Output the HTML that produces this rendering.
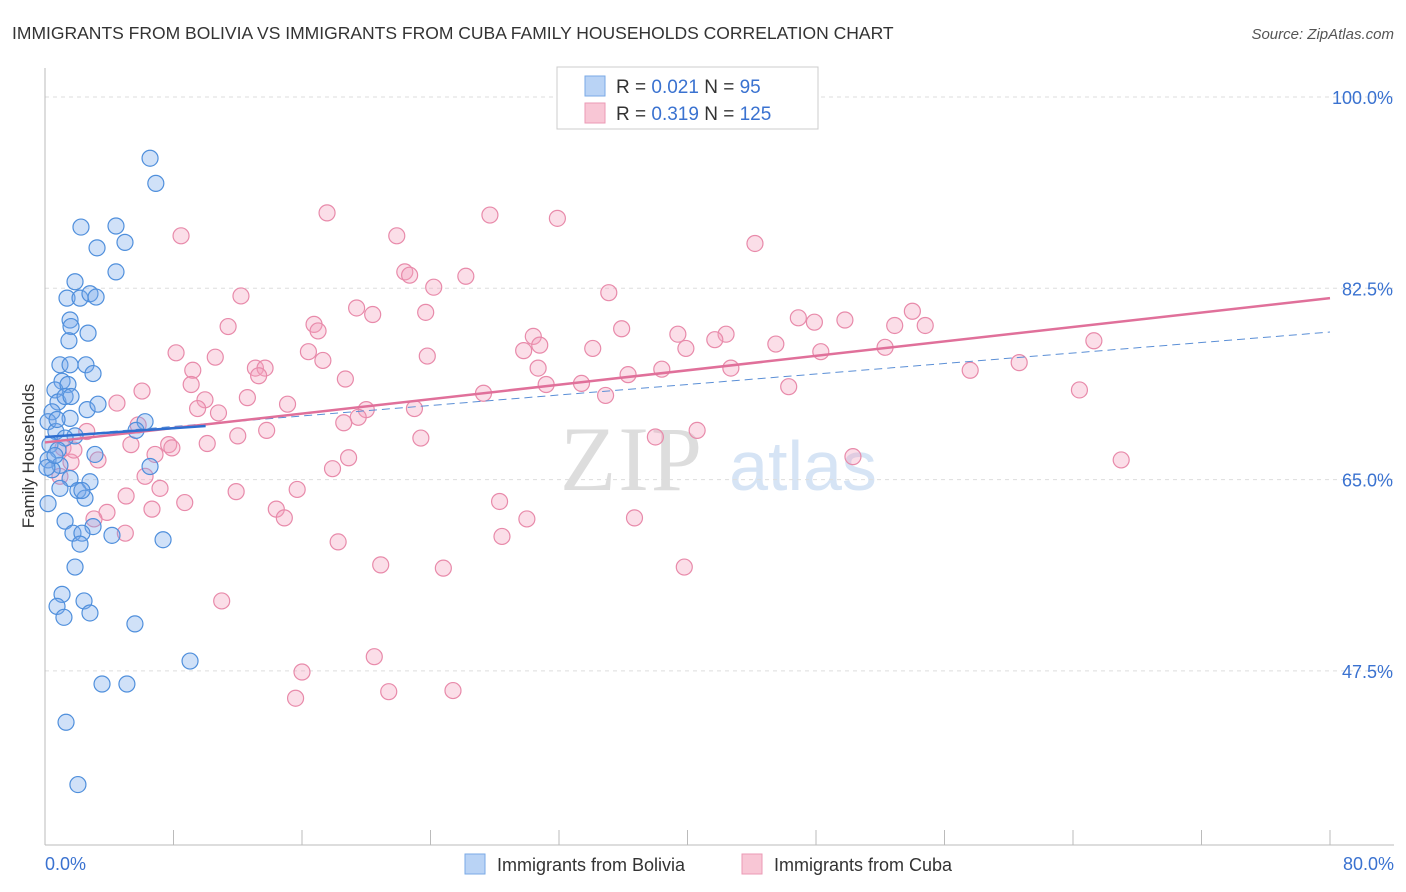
<!DOCTYPE html>
<html><head><meta charset="utf-8"><style>
body{margin:0;background:#fff;font-family:"Liberation Sans",sans-serif;}
</style></head><body>
<svg id="chart" width="1406" height="892" xmlns="http://www.w3.org/2000/svg" style="display:block">
<text x="12" y="39" font-size="17.5" fill="#333">IMMIGRANTS FROM BOLIVIA VS IMMIGRANTS FROM CUBA FAMILY HOUSEHOLDS CORRELATION CHART</text>
<text x="1394" y="39" font-size="15" fill="#555" text-anchor="end" font-style="italic">Source: ZipAtlas.com</text>
<g>
<text x="632" y="490" font-size="92" fill="#ddd" font-family="Liberation Serif,serif" text-anchor="middle" letter-spacing="2">ZIP</text>
<text x="803" y="490" font-size="70" fill="#d6e4f5" text-anchor="middle">atlas</text>
</g>
<g id="grid"></g><g id="axes"></g><g id="pts"></g><g id="lines"></g>
<text transform="translate(34,456) rotate(-90)" font-size="17" fill="#333" text-anchor="middle">Family Households</text>
<g>
<rect x="557" y="67" width="261" height="62" fill="#fff" stroke="#ccc"/>
<rect x="585" y="76" width="20" height="20" fill="#b9d3f5" stroke="#7aaae6"/>
<rect x="585" y="103" width="20" height="20" fill="#f8c6d5" stroke="#eb9ab5"/>
<text x="616" y="93" font-size="19" fill="#333">R = <tspan fill="#3a72d0">0.021</tspan>   N =  <tspan fill="#3a72d0"> 95</tspan></text>
<text x="616" y="120" font-size="19" fill="#333">R = <tspan fill="#3a72d0">0.319</tspan>   N = <tspan fill="#3a72d0">125</tspan></text>
</g>
<g>
<rect x="465" y="854" width="20" height="20" fill="#b9d3f5" stroke="#7aaae6"/>
<text x="497" y="871" font-size="18" fill="#333">Immigrants from Bolivia</text>
<rect x="742" y="854" width="20" height="20" fill="#f8c6d5" stroke="#eb9ab5"/>
<text x="774" y="871" font-size="18" fill="#333">Immigrants from Cuba</text>
</g>
</svg>
<script>
const yTicks=[100,82.5,65,47.5];
const yTickLabels=["100.0%","82.5%","65.0%","47.5%"];
const xTickCount=10;
const blueX=[6.54,6.9,2.24,4.42,3.24,4.98,4.42,1.87,1.37,2.18,2.8,3.18,1.56,1.62,2.68,1.49,0.93,1.56,2.55,2.99,1.06,0.62,1.43,0.81,1.25,1.62,2.62,3.3,0.44,1.56,6.23,5.67,0.19,0.68,1.87,1.25,0.31,0.81,3.11,0.19,0.93,6.54,0.44,1.56,2.8,0.93,2.05,2.49,0.19,1.25,2.99,1.74,2.3,4.17,2.18,7.35,1.87,1.06,0.75,2.43,1.18,2.8,5.6,9.03,3.55,5.1,1.31,2.05,0.12,0.62,2.3,0.75];
const blueY=[94.4,92.1,88.1,88.2,86.2,86.7,84.0,83.1,81.6,81.6,82.0,81.7,79.6,79.0,78.4,77.7,75.5,75.5,75.5,74.7,74.0,73.2,73.7,72.1,72.6,72.6,71.4,71.9,71.2,70.6,70.3,69.5,70.3,69.4,69.0,68.8,68.2,67.7,67.3,66.8,66.3,66.2,65.9,65.1,64.8,64.2,64.0,63.3,62.8,61.2,60.7,60.1,60.1,59.9,59.1,59.5,57.0,54.5,53.4,53.9,52.4,52.8,51.8,48.4,46.3,46.3,42.8,37.1,66.1,67.2,64.0,70.5];
const pinkX=[17.56,27.7,31.9,8.47,21.9,44.2,22.4,22.7,26.2,24.2,35.1,12.2,19.4,20.4,23.7,54.0,46.9,47.9,49.8,52.9,54.8,11.4,16.75,17.0,35.9,39.4,42.4,41.7,30.4,30.8,34.1,65.3,39.9,45.5,48.3,52.3,8.16,10.6,16.4,17.3,23.8,29.8,13.1,13.7,9.2,13.3,30.7,38.4,42.7,60.65,57.6,18.7,36.3,31.2,33.4,9.1,6.04,27.3,34.9,46.3,64.4,12.6,15.1,9.96,4.48,9.5,10.8,20.0,23.0,19.5,18.6,5.8,12.0,13.8,5.35,7.7,10.1,23.4,38.0,40.6,2.6,7.9,6.85,1.12,18.9,50.3,67.0,17.9,1.62,6.23,0.93,11.9,15.7,7.16,5.05,8.7,6.66,3.86,14.4,14.9,28.3,30.0,36.7,3.05,5.0,28.45,18.25,20.9,24.8,39.8,11.0,20.5,16.0,21.4,25.4,15.6,1.8,3.3];
const pinkY=[89.4,89.2,88.9,87.3,87.3,86.6,84.0,83.7,83.6,82.6,82.1,81.8,80.7,80.1,80.3,80.4,79.8,79.4,79.6,79.1,79.1,79.0,79.2,78.6,78.8,78.3,78.3,77.8,78.1,77.3,77.0,77.7,77.0,77.4,76.7,77.1,76.6,76.2,76.7,75.9,76.3,76.8,75.2,75.2,75.0,74.5,75.2,75.1,75.2,75.7,75.0,74.2,74.6,73.7,73.8,73.7,73.1,72.9,72.7,73.5,73.2,72.5,71.9,72.3,72.0,71.5,71.1,71.4,71.5,70.7,70.2,70.0,69.0,69.5,68.2,68.2,68.3,68.8,68.9,69.5,69.4,67.9,67.3,67.9,67.0,67.1,66.8,66.0,66.6,65.3,65.3,63.9,64.1,64.2,63.5,62.9,62.3,62.0,62.3,61.5,63.0,61.4,61.5,61.4,60.1,59.8,59.3,57.2,56.9,57.0,53.9,48.8,47.4,45.6,45.7,45.0,67.7,66.8];
const pinkTrend=[68.4,81.6];
const blueTrend=[68.9,69.9,10];
const blueDash=[68.9,78.5];
const NS="http://www.w3.org/2000/svg";
const sx=v=>45+v/80*1285;
const sy=v=>97+(100-v)*(191.3/17.5);
function mk(tag,attrs,parent){const e=document.createElementNS(NS,tag);for(const k in attrs)e.setAttribute(k,attrs[k]);document.getElementById(parent).appendChild(e);return e;}
yTicks.forEach((t,i)=>{
 const g=mk('line',{x1:45,x2:1394,y1:sy(t),y2:sy(t),stroke:'#ddd','stroke-dasharray':'4,4'},'grid');
 
 
 const tx=mk('text',{x:1393,y:sy(t)+7,'font-size':18,fill:'#3a72d0','text-anchor':'end'},'axes');
 tx.textContent=yTickLabels[i];
 
 
});
const ax=mk('line',{x1:45,x2:1394,y1:845,y2:845,stroke:'#bbb'},'axes');


const ay=mk('line',{x1:45,x2:45,y1:68,y2:845,stroke:'#bbb'},'axes');


for(let i=0;i<=xTickCount;i++){const v=i*80/xTickCount;
 const t=mk('line',{x1:sx(v),x2:sx(v),y1:830,y2:845,stroke:'#bbb'},'axes');
 
 }
const xl0=mk('text',{x:45,y:870,'font-size':18,fill:'#3a72d0'},'axes');xl0.textContent='0.0%';


const xl1=mk('text',{x:1394,y:870,'font-size':18,fill:'#3a72d0','text-anchor':'end'},'axes');xl1.textContent='80.0%';


pinkX.forEach((x,i)=>{const c=mk('circle',{cx:sx(x),cy:sy(pinkY[i]),r:8,fill:'rgba(244,160,188,0.35)',stroke:'#e88aaa','stroke-width':1.2},'pts');
 
 });
blueX.forEach((x,i)=>{const c=mk('circle',{cx:sx(x),cy:sy(blueY[i]),r:8,fill:'rgba(120,170,235,0.35)',stroke:'#4f8fdc','stroke-width':1.2},'pts');
 
 });
const l1=mk('line',{x1:sx(0),y1:sy(blueDash[0]),x2:sx(80),y2:sy(blueDash[1]),stroke:'#5b8fd6','stroke-width':1,'stroke-dasharray':'8,5'},'lines');


const l2=mk('line',{x1:sx(0),y1:sy(pinkTrend[0]),x2:sx(80),y2:sy(pinkTrend[1]),stroke:'#e0709a','stroke-width':2.5},'lines');


const l3=mk('line',{x1:sx(0),y1:sy(blueTrend[0]),x2:sx(blueTrend[2]),y2:sy(blueTrend[1]),stroke:'#2f6fd0','stroke-width':2.5},'lines');


</script>
</body></html>
